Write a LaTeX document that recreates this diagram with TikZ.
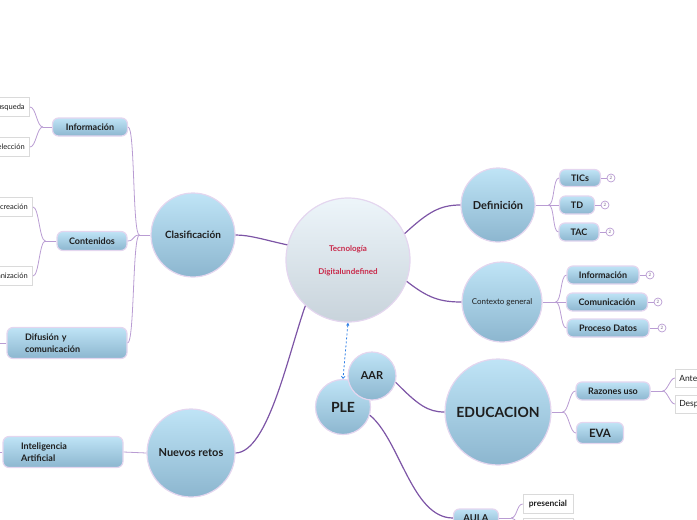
\documentclass[tikz,border=0pt]{standalone}
\usepackage{fontspec}
\setmainfont{Lato}
\usetikzlibrary{arrows.meta,shadows}
\definecolor{mainc}{HTML}{7D55A6}
\definecolor{subc}{HTML}{B99CD3}
\definecolor{bordc}{HTML}{E4D6EF}
\definecolor{btop}{HTML}{BFE4F6}
\definecolor{bbot}{HTML}{8CB6CF}
\definecolor{ctop}{HTML}{EDF5FA}
\definecolor{cbot}{HTML}{C8D3DB}
\definecolor{tecred}{HTML}{C92A4B}
\definecolor{txt}{HTML}{1E1E1E}
\definecolor{arrowc}{HTML}{2E7FE6}
\definecolor{wbord}{HTML}{DADADA}
\begin{document}
\begin{tikzpicture}[x=1pt,y=-1pt,
  circ/.style={circle, draw=bordc, line width=1.2pt, top color=btop, bottom color=bbot, text=txt, font=\bfseries\fontsize{11}{13}\selectfont, inner sep=0pt},
  rbox/.style={rectangle, rounded corners=6pt, draw=bordc, line width=1.2pt, top color=btop, bottom color=bbot, text=txt, font=\bfseries\fontsize{9}{11}\selectfont, inner sep=0pt},
  wbox/.style={rectangle, draw=wbord, fill=white, line width=0.6pt, font=\fontsize{7.5}{9}\selectfont, text=txt, inner xsep=5pt, inner ysep=0pt, minimum height=19pt, drop shadow={shadow xshift=0.6pt, shadow yshift=-0.6pt, opacity=0.15}},
  badge/.style={circle, draw=subc, fill=white, line width=0.7pt, minimum size=8pt, inner sep=0pt, font=\fontsize{4.5}{5}\selectfont, text=subc!70!black},
  mainline/.style={draw=mainc, line width=1.2pt},
  subline/.style={draw=subc, line width=0.8pt},
  badgeline/.style={draw=subc, line width=0.7pt}
]
\useasboundingbox (0,0) rectangle (697,520);
\clip (0,0) rectangle (697,520);

% ---------- main circles ----------
\node[circle, draw=bordc, line width=1.2pt, top color=ctop, bottom color=cbot, minimum size=124pt, inner sep=0pt, align=center, text=tecred, font=\bfseries\fontsize{8}{9}\selectfont] (cen) at (348,260) {\mbox{}\\[-1pt]Tecnología\\[14pt]Digitalundefined};
\node[circ, minimum size=84pt, font=\bfseries\fontsize{10}{12}\selectfont] (clas) at (193,235) {Clasificación};
\node[circ, minimum size=88pt] (nr) at (191,453) {Nuevos retos};
\node[circ, minimum size=74pt] (def) at (498,205) {Definición};
\node[circ, minimum size=80pt, font=\fontsize{8}{9}\selectfont] (ctx) at (502,302) {Contexto general};
\node[circ, minimum size=106pt, font=\bfseries\fontsize{14}{16}\selectfont] (edu) at (498,412) {EDUCACION};
\node[circ, minimum size=55pt, font=\bfseries\fontsize{14}{16}\selectfont] (ple) at (343,407) {PLE};
\node[circ, minimum size=48pt, font=\bfseries\fontsize{11}{13}\selectfont] (aar) at (372,376) {AAR};
\node[rbox, minimum width=45pt, minimum height=18pt, font=\bfseries\fontsize{9.5}{11}\selectfont] (aula) at (476,518) {AULA};

% ---------- main connectors ----------
\draw[mainline] (cen.166) .. controls (265,240) and (250,235) .. (clas.east);
\draw[mainline] (cen.25) .. controls (428,212) and (440,205) .. (def.west);
\draw[mainline] (cen.-20) .. controls (428,298) and (440,302) .. (ctx.west);
\draw[mainline] (cen.-133) .. controls (288,355) and (268,452) .. (nr.east);
\draw[mainline] (aar.-15) .. controls (418,405) and (428,412) .. (edu.west);
\draw[mainline] (ple.-17) .. controls (400,440) and (412,518) .. (aula.west);
\draw[arrowc, line width=0.8pt, dash pattern=on 2pt off 2pt, {Triangle[length=3pt,width=3pt]}-{Straight Barb[length=2pt,width=3.5pt]}] (cen.south) -- (ple.north);

% ---------- left: Clasificacion ----------
\node[rbox, minimum width=75pt, minimum height=18pt] (info1) at (90,127) {Información};
\node[rbox, minimum width=70pt, minimum height=19pt] (cont) at (92,241) {Contenidos};
\node[rbox, minimum width=120pt, minimum height=31pt, text width=84pt, align=left, font=\bfseries\fontsize{9}{12}\selectfont] (difu) at (67,343) {Difusión y\\comunicación};
\node[rbox, minimum width=120pt, minimum height=31pt, text width=84pt, align=left, font=\bfseries\fontsize{9}{12}\selectfont] (ia) at (63,452) {Inteligencia\\Artificial};

\draw[subline] (clas.west) -- ++(-11,0) coordinate (cj);
\foreach \c in {info1,cont,difu} \draw[subline] (cj) .. controls +(-7,0) and +(7,0) .. (\c.east);
\draw[subline] (nr.west) -- (ia.east);
\draw[subline] (difu.west) -- ++(-15,0);
\draw[subline] (ia.west) -- ++(-15,0);

\node[wbox, anchor=east] (busq) at (30,107) {Búsqueda};
\node[wbox, anchor=east] (sel) at (30,147) {Selección};
\node[wbox, anchor=east] (recr) at (33,207) {Recreación};
\node[wbox, anchor=east] (org) at (33,276) {Organización};

\draw[subline] (info1.west) -- ++(-9,0) coordinate (ij);
\foreach \c in {busq,sel} \draw[subline] (ij) .. controls +(-6,0) and +(6,0) .. (\c.east);
\draw[subline] (cont.west) -- ++(-11,0) coordinate (oj);
\foreach \c in {recr,org} \draw[subline] (oj) .. controls +(-6,0) and +(6,0) .. (\c.east);

% ---------- right: Definicion ----------
\node[rbox, minimum width=41pt, minimum height=17pt] (tics) at (580,178) {TICs};
\node[rbox, minimum width=35pt, minimum height=18pt] (td) at (577,205) {TD};
\node[rbox, minimum width=40pt, minimum height=18pt] (tac) at (579,232) {TAC};
\draw[subline] (def.east) -- ++(13,0) coordinate (dj);
\foreach \c in {tics,td,tac} \draw[subline] (dj) .. controls +(6,0) and +(-6,0) .. (\c.west);
\node[badge] (b1) at (611,178) {2};
\node[badge] (b2) at (605,205) {2};
\node[badge] (b3) at (610,232) {2};
\draw[badgeline] (tics.east) -- (b1.west);
\draw[badgeline] (td.east) -- (b2.west);
\draw[badgeline] (tac.east) -- (b3.west);

% ---------- right: Contexto general ----------
\node[rbox, minimum width=72pt, minimum height=18pt] (info2) at (603,275) {Información};
\node[rbox, minimum width=81pt, minimum height=18pt] (comu) at (607,302) {Comunicación};
\node[rbox, minimum width=82pt, minimum height=18pt] (proc) at (608,328) {Proceso Datos};
\draw[subline] (ctx.east) -- ++(13,0) coordinate (xj);
\foreach \c in {info2,comu,proc} \draw[subline] (xj) .. controls +(6,0) and +(-6,0) .. (\c.west);
\node[badge] (b4) at (650,275) {2};
\node[badge] (b5) at (658,302) {2};
\node[badge] (b6) at (662,328) {2};
\draw[badgeline] (info2.east) -- (b4.west);
\draw[badgeline] (comu.east) -- (b5.west);
\draw[badgeline] (proc.east) -- (b6.west);

% ---------- EDUCACION ----------
\node[rbox, minimum width=74pt, minimum height=18pt] (raz) at (613,391) {Razones uso};
\node[rbox, minimum width=47pt, minimum height=21pt, font=\bfseries\fontsize{11.5}{13}\selectfont] (eva) at (600,433) {EVA};
\draw[subline] (edu.east) -- ++(11,0) coordinate (ej);
\foreach \c in {raz,eva} \draw[subline] (ej) .. controls +(6,0) and +(-6,0) .. (\c.west);
\node[wbox, anchor=west, minimum width=40pt, minimum height=18pt, inner xsep=4pt, align=left, text width=40pt, font=\fontsize{8.5}{10}\selectfont] (ante) at (675,378) {Antes};
\node[wbox, anchor=west, minimum width=40pt, minimum height=18pt, inner xsep=4pt, align=left, text width=40pt, font=\fontsize{8.5}{10}\selectfont] (desp) at (675,404) {Después};
\draw[subline] (raz.east) -- ++(12,0) coordinate (rj);
\foreach \c in {ante,desp} \draw[subline] (rj) .. controls +(5,0) and +(-5,0) .. (\c.west);

% ---------- AULA ----------
\node[wbox, minimum width=50pt, font=\bfseries\fontsize{8.5}{10}\selectfont] (pres) at (548,504) {presencial};
\node[wbox, anchor=west, minimum width=50pt] (aula2) at (523,528) {};
\draw[subline] (aula.east) -- ++(12,0) coordinate (aj);
\foreach \c in {pres,aula2} \draw[subline] (aj) .. controls +(6,0) and +(-6,0) .. (\c.west);
\end{tikzpicture}
\end{document}
